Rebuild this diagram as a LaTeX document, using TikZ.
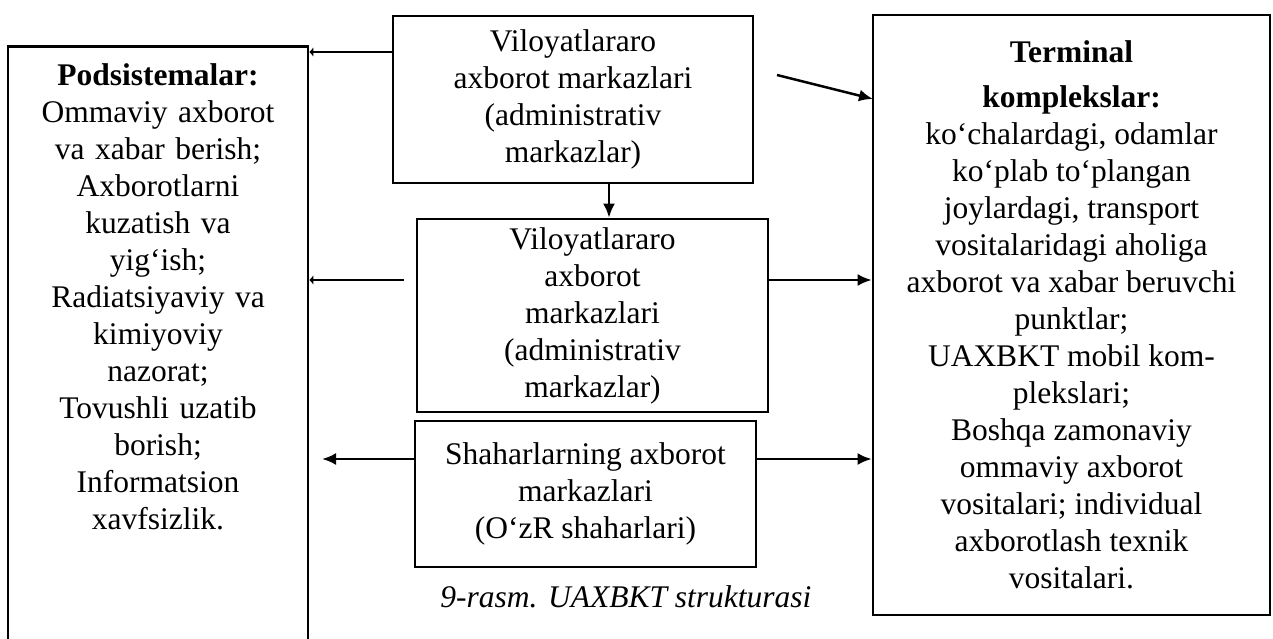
\documentclass[tikz,border=0pt]{standalone}
\usepackage{fontspec}
\setmainfont{Liberation Serif}
\usetikzlibrary{arrows.meta}

\begin{document}
\begin{tikzpicture}
  [
    x                 = 1pt,
    y                 = -1pt,
    box/.style        = {draw, line width=2.7pt, align=center, inner sep=0pt},
    link/.style       = {line width=2.5pt, -{Latex[length=14pt, width=12pt]}},
    stub/.style       = {line width=2.5pt, -{Latex[length=4pt, width=10pt]}},
    every node/.style = {font=\fontsize{31.5}{37}\selectfont}
  ]

  \useasboundingbox (0,0) rectangle (1273,639);

  % left column, runs off the page
  \node[box, anchor=north, text width=280pt, inner xsep=10pt, inner ysep=17pt, text depth=640pt] (podsis) at (158,45)
    {\textbf{Podsistemalar:}\\ Ommaviy axborot\\ va xabar berish;\\ Axborotlarni\\ kuzatish va\\ yig‘ish;\\
     Radiatsiyaviy va\\ kimiyoviy\\ nazorat;\\ Tovushli uzatib\\ borish;\\ Informatsion\\ xavfsizlik.};

  % middle column
  \node[box, minimum width=360pt, minimum height=167pt] (vilA) at (573,99.5)
    {Viloyatlararo\\ axborot markazlari\\ (administrativ\\ markazlar)};
  \node[box, minimum width=351pt, minimum height=193pt] (vilB) at (592.5,315.5)
    {Viloyatlararo\\ axborot\\ markazlari\\ (administrativ\\ markazlar)};
  \node[box, minimum width=341pt, minimum height=146pt] (shahar) at (585.5,494)
    {Shaharlarning axborot\\ markazlari\\ (O‘zR shaharlari)};
  \node[font=\fontsize{31.5}{37}\selectfont\itshape] (caption) at (626,597) {9-rasm. UAXBKT strukturasi};

  % right column
  \node[box, minimum width=397pt, minimum height=600pt] (terminal) at (1071.5,315)
    {\textbf{Terminal}\\[8pt] \textbf{komplekslar:}\\ ko‘chalardagi, odamlar\\ ko‘plab to‘plangan\\
     joylardagi, transport\\ vositalaridagi aholiga\\ axborot va xabar beruvchi\\ punktlar;\\
     UAXBKT mobil kom-\\ plekslari;\\ Boshqa zamonaviy\\ ommaviy axborot\\ vositalari; individual\\
     axborotlash texnik\\ vositalari.};

  \coordinate (yA)    at (0,52);
  \coordinate (yB)    at (0,280);
  \coordinate (yC)    at (0,459);
  \coordinate (midx)  at (609,0);
  \coordinate (fromA) at (777,75);
  \coordinate (toA)   at (873,99);
  \coordinate (fromB) at (404,280);
  \coordinate (toC)   at (322,459);

  \draw[stub] (vilA.west |- yA) -- (podsis.east |- yA);
  \draw[link] (fromA) -- (toA);
  \draw[link] (vilA.south -| midx) -- (vilB.north -| midx);
  \draw[stub] (fromB) -- (podsis.east |- fromB);
  \draw[link] (vilB.east |- yB) -- (terminal.west |- yB);
  \draw[link] (shahar.west |- yC) -- (toC);
  \draw[link] (shahar.east |- yC) -- (terminal.west |- yC);
\end{tikzpicture}
\end{document}
